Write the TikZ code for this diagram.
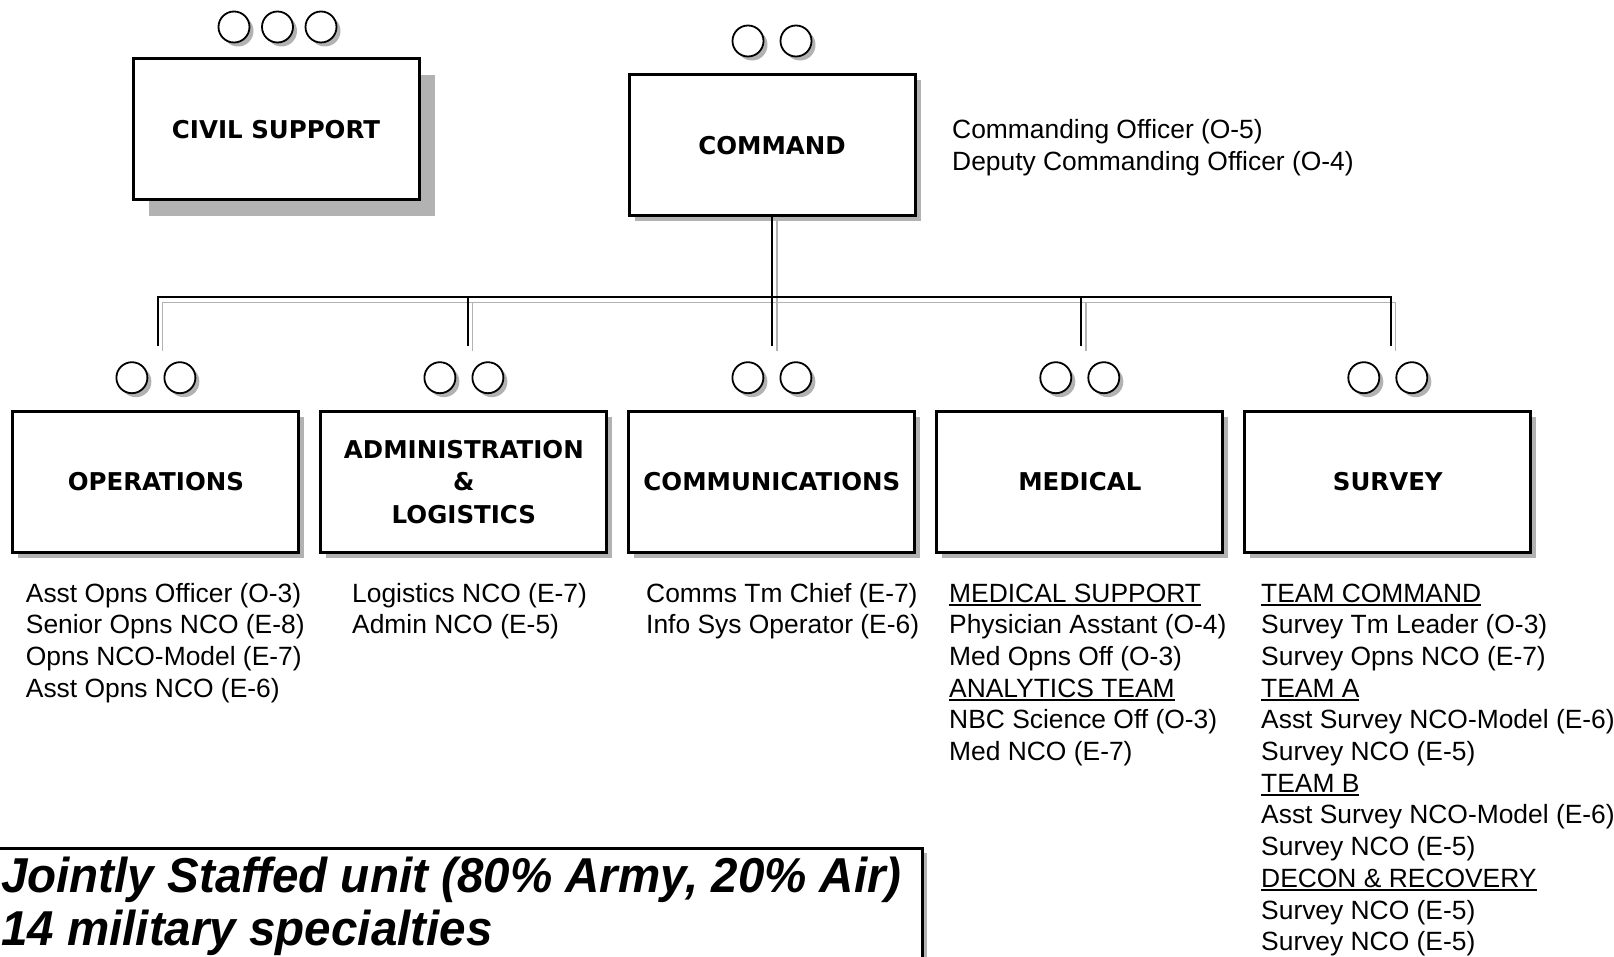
\documentclass[tikz,border=0pt]{standalone}
\usepackage{fontspec}
\setmainfont{Liberation Sans}
\newfontfamily\titlefont{DejaVu Sans}
\newfontfamily\notefont[FakeStretch=0.97]{Liberation Sans}
\usetikzlibrary{shadows}
\definecolor{shadowgray}{gray}{0.7}
\newcommand\ulin[1]{\setbox0\hbox{#1}\rlap{\vrule height -1.8pt depth 3.8pt width \wd0}\box0}
\tikzset{
  boxbase/.style={draw, line width=3pt, fill=white, minimum width=286pt, minimum height=141pt,
    inner sep=0pt, align=center, font=\titlefont\bfseries\fontsize{24.5}{32.5}\selectfont},
  unitbox/.style={boxbase, drop shadow={shadow xshift=5.5pt, shadow yshift=-5.5pt, fill=shadowgray, opacity=1}},
  civilbox/.style={boxbase, drop shadow={shadow xshift=16pt, shadow yshift=-16pt, fill=shadowgray, opacity=1}},
  circ/.style={circle, draw, line width=1.8pt, fill=white, minimum size=31pt, inner sep=0pt,
    drop shadow={shadow xshift=4pt, shadow yshift=-4pt, fill=shadowgray, opacity=1}},
  body/.style={anchor=base west, inner sep=0pt, font=\fontsize{26.4}{31.7}\selectfont},
  notetext/.style={anchor=base west, inner sep=0pt, font=\notefont\bfseries\itshape\fontsize{49}{55}\selectfont},
  notebox/.style={draw, line width=2.5pt, fill=white, inner sep=0pt, anchor=north east,
    minimum width=960pt, minimum height=200pt,
    drop shadow={shadow xshift=5pt, shadow yshift=-5pt, fill=shadowgray, opacity=1}},
  bus/.style={line width=2pt, line cap=butt},
  busshadow/.style={line width=1.6pt, draw=shadowgray},
  sh/.style={xshift=5pt, yshift=-5pt}
}
\begin{document}
\begin{tikzpicture}[x=1pt, y=-1pt]
\useasboundingbox (0,0) rectangle (1614,957);

% connector coordinates
\coordinate (d1) at (157.5,346);
\coordinate (d2) at (467.5,346);
\coordinate (d3) at (772,346);
\coordinate (d4) at (1080.8,346);
\coordinate (d5) at (1390.6,346);
\coordinate (b1) at (157.5,297.5);
\coordinate (b2) at (467.5,297.5);
\coordinate (b4) at (1080.8,297.5);
\coordinate (b5) at (1390.6,297.5);
\coordinate (ctop) at (772,216);

% line shadows
\draw[busshadow] ([sh]ctop) -- ([sh]d3);
\draw[busshadow] ([sh]d1) -- ([sh]b1) -- ([sh]b5) -- ([sh]d5);
\draw[busshadow] ([sh]b2) -- ([sh]d2);
\draw[busshadow] ([sh]b4) -- ([sh]d4);

% boxes
\node[civilbox] (civil) at (276,129.5) {CIVIL SUPPORT};
\node[unitbox] (cmd) at (772,145.4) {COMMAND};
\node[unitbox] (ops) at (155.9,482) {OPERATIONS};
\node[unitbox] (adm) at (463.9,482) {ADMINISTRATION\\\&\\LOGISTICS};
\node[unitbox] (com) at (771.9,482) {COMMUNICATIONS};
\node[unitbox] (med) at (1079.8,482) {MEDICAL};
\node[unitbox] (sur) at (1387.8,482) {SURVEY};

% connectors
\draw[bus] (cmd.south) -- (d3);
\draw[bus] (d1) -- (b1) -- (b5) -- (d5);
\draw[bus] (b2) -- (d2);
\draw[bus] (b4) -- (d4);

% circles
\node[circ] (cv1) at (234,27) {};
\node[circ] (cv2) at (277.5,27) {};
\node[circ] (cv3) at (321,27) {};
\node[circ] (cm1) at (748,41) {};
\node[circ] (cm2) at (796,41) {};
\foreach \c/\n in {155.9/op, 463.9/ad, 771.9/co, 1079.8/me, 1387.8/su} {
  \node[circ] (\n1) at (\c-24,377.7) {};
  \node[circ] (\n2) at (\c+24,377.7) {};
}

% command staff
\node[body] (co1) at (952,139) {Commanding Officer (O-5)};
\node[body] (co2) at (952,170.7) {Deputy Commanding Officer (O-4)};

% lists
\foreach \t [count=\i] in {Asst Opns Officer (O-3), Senior Opns NCO (E-8), Opns NCO-Model (E-7), Asst Opns NCO (E-6)}
  \node[body] (opl\i) at (25.7,{602+(\i-1)*31.7}) {\t};
\foreach \t [count=\i] in {Logistics NCO (E-7), Admin NCO (E-5)}
  \node[body] (adl\i) at (352,{602+(\i-1)*31.7}) {\t};
\foreach \t [count=\i] in {Comms Tm Chief (E-7), Info Sys Operator (E-6)}
  \node[body] (col\i) at (646,{602+(\i-1)*31.7}) {\t};
\foreach \t [count=\i] in {{\ulin{MEDICAL SUPPORT}}, Physician Asstant (O-4), Med Opns Off (O-3), {\ulin{ANALYTICS TEAM}}, NBC Science Off (O-3), Med NCO (E-7)}
  \node[body] (mel\i) at (949,{602+(\i-1)*31.7}) {\t};
\foreach \t [count=\i] in {{\ulin{TEAM COMMAND}}, Survey Tm Leader (O-3), Survey Opns NCO (E-7), {\ulin{TEAM A}}, Asst Survey NCO-Model (E-6), Survey NCO (E-5), {\ulin{TEAM B}}, Asst Survey NCO-Model (E-6), Survey NCO (E-5), {\ulin{DECON \& RECOVERY}}, Survey NCO (E-5), Survey NCO (E-5)}
  \node[body] (sul\i) at (1261,{602+(\i-1)*31.7}) {\t};

% note box
\node[notebox] (note) at (923.5,847) {};
\node[notetext] (n1) at (1,892) {Jointly Staffed unit (80\% Army, 20\% Air)};
\node[notetext] (n2) at (1,945) {14 military specialties};
\end{tikzpicture}
\end{document}
